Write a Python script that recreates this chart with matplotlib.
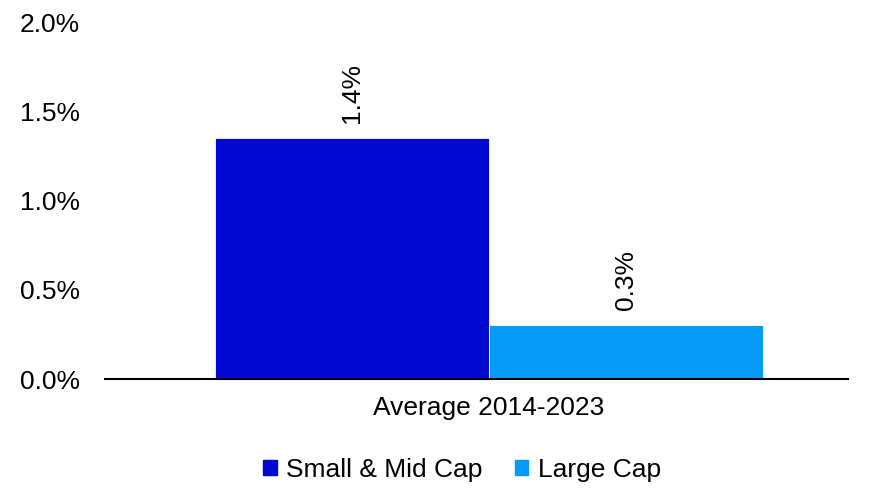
import matplotlib
matplotlib.use("Agg")
import matplotlib.pyplot as plt
from matplotlib.patches import Patch

plt.rcParams['font.family'] = ['Liberation Sans', 'DejaVu Sans']

categories = ["Average 2014-2023"]
series_names = ["Small & Mid Cap", "Large Cap"]
values = [1.35, 0.30]
labels = ["1.4%", "0.3%"]
colors = ["#0008D2", "#069AF8"]
yticks = [0.0, 0.5, 1.0, 1.5, 2.0]

FS = 19

fig = plt.figure(figsize=(8.83, 4.9), dpi=100)
ax = fig.add_axes([105/883, 111/490, 743/883, (379-22)/490])

w = 0.4
offsets = [-w/2, w/2]
for off, v, lab, c, name in zip(offsets, values, labels, colors, series_names):
    ax.bar(0 + off, v, width=w, color=c, edgecolor='white', linewidth=0.6, label=name)
    ax.annotate(lab, (0 + off, v), xytext=(0, 11), textcoords='offset points',
                rotation=90, ha='center', va='bottom', fontsize=FS)

ax.set_xlim(-0.5606, 0.524)
ax.set_ylim(0, 2.0)
ax.set_yticks(yticks)
ax.set_yticklabels([f"{t:.1f}%" for t in yticks], fontsize=FS)
ax.set_xticks([0])
ax.set_xticklabels(categories, fontsize=FS)
ax.tick_params(axis='both', length=0)
ax.tick_params(axis='y', pad=18)
ax.tick_params(axis='x', pad=12)
for s in ['top', 'right', 'left']:
    ax.spines[s].set_visible(False)
ax.spines['bottom'].set_linewidth(1.5)
ax.spines['bottom'].set_color('black')

handles = [Patch(color=c, label=n) for c, n in zip(colors, series_names)]
fig.legend(handles=handles, loc='center', bbox_to_anchor=(462/883, 1 - 470/490),
           ncol=2, frameon=False, fontsize=FS, handlelength=0.5, handleheight=0.5,
           handletextpad=0.35, columnspacing=1.25)

fig.savefig("out.png", dpi=100)
